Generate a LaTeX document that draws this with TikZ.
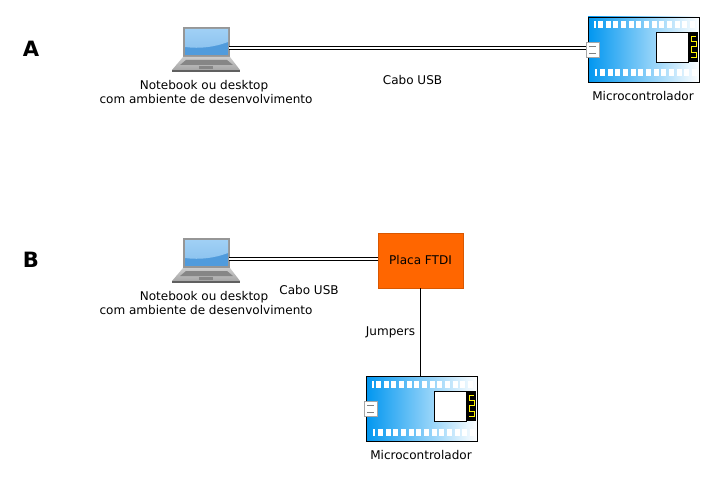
\documentclass[tikz,border=0pt]{standalone}
\usepackage{fontspec}
\setmainfont{DejaVu Sans}
\definecolor{chipblue}{RGB}{0,150,240}
\definecolor{screenblue}{RGB}{80,155,220}
\definecolor{screenlight}{RGB}{160,208,245}
\definecolor{laptopgrey}{RGB}{150,150,150}
\definecolor{ftdiorange}{RGB}{255,102,0}
\tikzset{
  lbl/.style={font=\fontsize{6.85}{8}\selectfont,inner sep=0pt,align=center},
  letter/.style={font=\fontsize{12}{14}\selectfont\bfseries,inner sep=0pt},
  usbcable/.style={double=white,double distance=1.3pt,line width=0.6pt},
  wire/.style={line width=0.5pt},
  thinwire/.style={line width=0.45pt},
  ftdibox/.style={draw=ftdiorange!85!black,line width=0.3pt,fill=ftdiorange,minimum width=1.7cm,minimum height=1.1cm,inner sep=0pt},
  usbport/.style={draw=gray!70,fill=white,line width=0.4pt,minimum width=0.26cm,minimum height=0.3cm,inner sep=0pt},
  laptop/.pic={
    % lid and screen
    \fill[laptopgrey] (183,27) rectangle (230,57);
    \fill[screenblue] (185,29) rectangle (228,55);
    \shade[top color=screenlight,bottom color=screenblue!25!screenlight] (185,29) -- (228,29) -- (228,42) .. controls (215,47) and (200,49) .. (185,47) -- cycle;
    % base
    \shade[top color=gray!40,bottom color=gray!70] (183,57) -- (230,57) -- (240,70) -- (172,70) -- cycle;
    \fill[gray!75!black] (172,70) rectangle (240,72);
    \fill[gray!95] (186,60) -- (227,60) -- (233,65) -- (180,65) -- cycle;
    \fill[gray!95] (199,66) rectangle (213,69);
    \coordinate (-out) at (229,48);
  },
  chipboard/.pic={
    % board
    \shade[left color=chipblue,right color=white] (588,17) rectangle (699,82);
    \draw[thinwire] (588,17) rectangle (699,82);
    % pin rows
    \foreach \i in {0,...,12} {
      \fill[white] (598+\i*7.67,21.5) rectangle (603+\i*7.67,28.5);
      \fill[white] (600+\i*7.67,69.5) rectangle (605+\i*7.67,76.5);
    }
    \fill[white] (593.5,21.5) rectangle (595.5,28.5);
    \fill[white] (595,69.5) rectangle (597,76.5);
    % display and antenna
    \fill[black] (688,32) rectangle (698,62);
    \draw[thinwire,fill=white] (656,32) rectangle (688,62);
    \draw[yellow,line width=0.55pt] (696,36) -- (691,36) -- (691,41) -- (696,41) -- (696,46) -- (691,46) -- (691,52) -- (696,52) -- (696,57) -- (691,57);
    % usb port
    \node[usbport] (-port) at (592.5,49.5) {};
    \draw[gray,line width=0.4pt] (589,46) -- (596,46) (589,53) -- (596,53);
    \coordinate (-in) at (586,48);
  }
}
\begin{document}
\begin{tikzpicture}[x=0.02cm,y=-0.02cm]
\useasboundingbox (0,0) rectangle (715,479);

% Part A
\node[letter] (letA) at (31,49) {A};
\pic (lapA) at (0,0) {laptop};
\pic (micA) at (0,0) {chipboard};
\node[lbl] (noteA) at (206,92) {Notebook ou desktop\hspace*{0.08cm}\\com ambiente de desenvolvimento};
\node[lbl] (usbA) at (412.5,80) {Cabo USB};
\node[lbl] (nameA) at (643,96) {Microcontrolador};
\draw[usbcable] (lapA-out) -- (micA-in);

% Part B
\node[letter] (letB) at (31,260) {B};
\pic (lapB) at (0,211) {laptop};
\pic (micB) at (-222,359) {chipboard};
\node[ftdibox] (ftdi) at (420.5,260.5) {};
\node[lbl] at (ftdi) {Placa FTDI};
\node[lbl] (noteB) at (206,303) {Notebook ou desktop\hspace*{0.08cm}\\com ambiente de desenvolvimento};
\node[lbl] (usbB) at (309,290) {Cabo USB};
\node[lbl] (jump) at (390.5,332) {Jumpers};
\node[lbl] (nameB) at (421,455) {Microcontrolador};
\draw[usbcable] (lapB-out) -- (lapB-out -| ftdi.west);
\draw[wire] (ftdi.south) -- (ftdi.south |- 0,376);
\end{tikzpicture}
\end{document}
